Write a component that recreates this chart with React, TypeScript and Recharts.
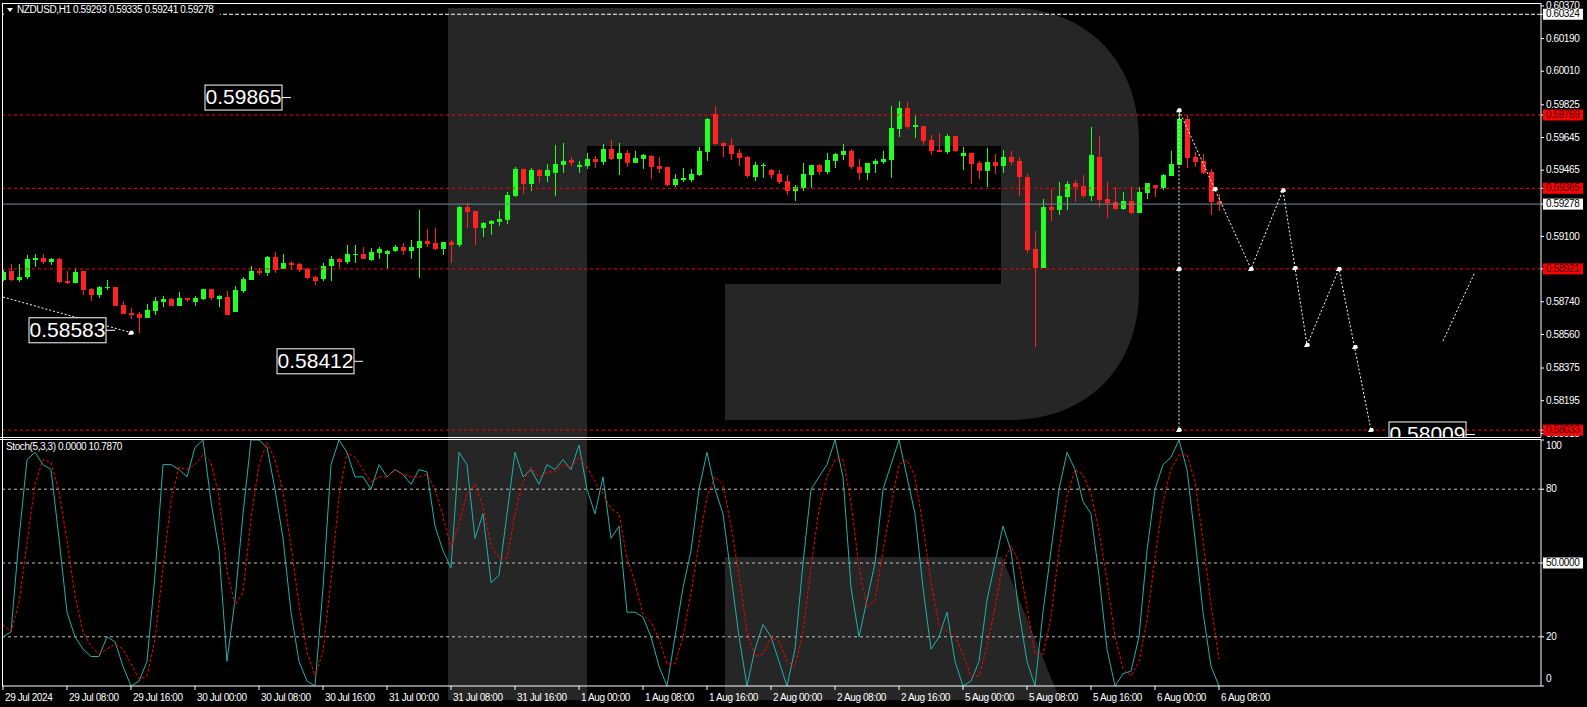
import React from 'react'
import { ComposedChart, Bar, Line, XAxis, YAxis, ReferenceLine, ReferenceDot } from 'recharts'

// NZDUSD H1, bar 0 = 29 Jul 00:00
const opens = [
  0.5886, 0.5891, 0.5886, 0.58876, 0.5897, 0.58981, 0.58959, 0.58976, 0.58854, 0.58843,
  0.5891, 0.5881, 0.58777, 0.58816, 0.58821, 0.58722, 0.58678, 0.58673, 0.58651, 0.58689,
  0.58739, 0.58755, 0.58717, 0.58761, 0.58739, 0.58755, 0.5881, 0.58755, 0.58766, 0.58684,
  0.58799, 0.5886, 0.5891, 0.58899, 0.58987, 0.58921, 0.58954, 0.58948, 0.58921, 0.58876,
  0.58865, 0.58937, 0.58976, 0.58959, 0.58998, 0.59003, 0.5897, 0.59009, 0.59003, 0.5902,
  0.59042, 0.5902, 0.59036, 0.59075, 0.59064, 0.59031, 0.59069, 0.59053, 0.59262, 0.5924,
  0.59146, 0.59169, 0.5918, 0.59191, 0.59323, 0.59472, 0.59389, 0.59466, 0.59433, 0.5945,
  0.59494, 0.59521, 0.59483, 0.59488, 0.59527, 0.5951, 0.59582, 0.59527, 0.5956, 0.59505,
  0.59527, 0.59543, 0.59488, 0.59483, 0.59383, 0.59411, 0.59411, 0.59438, 0.59565, 0.59775,
  0.59615, 0.59604, 0.5956, 0.59538, 0.59427, 0.59488, 0.59466, 0.59444, 0.59405, 0.5935,
  0.59367, 0.59438, 0.59494, 0.59455, 0.59516, 0.59549, 0.59571, 0.59483, 0.5945, 0.59499,
  0.5951, 0.59521, 0.59692, 0.59808, 0.59703, 0.59708, 0.59631, 0.59576, 0.59565, 0.59653,
  0.59543, 0.5956, 0.59505, 0.59461, 0.5951, 0.59488, 0.59538, 0.59516, 0.59427, 0.59031,
  0.58926, 0.59262, 0.59246, 0.59317, 0.59394, 0.59378, 0.59323, 0.59538, 0.59306, 0.5929,
  0.59251, 0.59295, 0.59229, 0.59339, 0.59383, 0.59367, 0.59433, 0.59494, 0.59747, 0.59538,
  0.59516, 0.59455, 0.59293,
]
const highs = [
  0.58915, 0.58948, 0.58948, 0.58998, 0.59003, 0.59003, 0.58981, 0.58981, 0.5891, 0.58926,
  0.5891, 0.58816, 0.58827, 0.5886, 0.58821, 0.58744, 0.58706, 0.58684, 0.58728, 0.58766,
  0.58772, 0.58761, 0.58794, 0.58761, 0.58772, 0.5881, 0.5881, 0.58777, 0.58799, 0.58827,
  0.58876, 0.58937, 0.58926, 0.58992, 0.59014, 0.59003, 0.58965, 0.58954, 0.58926, 0.58882,
  0.58954, 0.58992, 0.58981, 0.59053, 0.59053, 0.59042, 0.59036, 0.59042, 0.59025, 0.59053,
  0.59064, 0.5908, 0.59246, 0.59141, 0.59146, 0.59069, 0.5908, 0.59268, 0.59284, 0.5924,
  0.5918, 0.59191, 0.5924, 0.59345, 0.59483, 0.59472, 0.59477, 0.59472, 0.59499, 0.59604,
  0.59615, 0.59538, 0.59516, 0.5956, 0.59543, 0.59609, 0.59631, 0.59615, 0.59576, 0.59571,
  0.59554, 0.59549, 0.59538, 0.59483, 0.59444, 0.59477, 0.59472, 0.59593, 0.59753, 0.59819,
  0.5962, 0.59642, 0.59582, 0.59543, 0.5951, 0.59505, 0.59472, 0.59466, 0.59438, 0.59383,
  0.59505, 0.59494, 0.59499, 0.5956, 0.5956, 0.59609, 0.59582, 0.59527, 0.59505, 0.59527,
  0.59571, 0.59819, 0.59846, 0.59841, 0.59764, 0.59708, 0.59659, 0.5967, 0.59664, 0.59653,
  0.59593, 0.5956, 0.59516, 0.59587, 0.59554, 0.59576, 0.59571, 0.59538, 0.59444, 0.5913,
  0.59306, 0.59361, 0.594, 0.59405, 0.59411, 0.59438, 0.59703, 0.59653, 0.594, 0.59372,
  0.59345, 0.59372, 0.59372, 0.59394, 0.59383, 0.59444, 0.59571, 0.59791, 0.59769, 0.59565,
  0.59554, 0.59472, 0.59335,
]
const lows = [
  0.58854, 0.58854, 0.58849, 0.58865, 0.58932, 0.58948, 0.58943, 0.58843, 0.58838, 0.58843,
  0.58777, 0.58744, 0.58761, 0.58805, 0.58717, 0.58673, 0.58645, 0.58568, 0.58651, 0.58667,
  0.58711, 0.58717, 0.58717, 0.58739, 0.58717, 0.5875, 0.5875, 0.58711, 0.58667, 0.58684,
  0.58788, 0.5886, 0.58887, 0.58882, 0.58899, 0.58921, 0.58915, 0.58904, 0.58865, 0.58832,
  0.58854, 0.58854, 0.58926, 0.58948, 0.58954, 0.58976, 0.58965, 0.58976, 0.58921, 0.59014,
  0.58998, 0.58976, 0.58871, 0.59042, 0.59025, 0.58998, 0.58954, 0.59042, 0.59146, 0.59053,
  0.59097, 0.59108, 0.59157, 0.59169, 0.59317, 0.59334, 0.5935, 0.59394, 0.594, 0.59323,
  0.5945, 0.59488, 0.5945, 0.59472, 0.59477, 0.59494, 0.59521, 0.59438, 0.59483, 0.59505,
  0.59472, 0.59416, 0.5945, 0.59378, 0.59372, 0.594, 0.594, 0.59433, 0.59516, 0.59604,
  0.59538, 0.59521, 0.59488, 0.59422, 0.59405, 0.59422, 0.59416, 0.59389, 0.59328, 0.59295,
  0.5935, 0.59367, 0.59438, 0.59444, 0.59477, 0.59521, 0.59472, 0.59411, 0.59411, 0.5945,
  0.59499, 0.59422, 0.59648, 0.59692, 0.59642, 0.59604, 0.59549, 0.59565, 0.59554, 0.59565,
  0.59466, 0.59389, 0.59416, 0.59372, 0.59444, 0.5945, 0.59494, 0.59323, 0.59009, 0.58491,
  0.58926, 0.59185, 0.59218, 0.59246, 0.5929, 0.59312, 0.59295, 0.59262, 0.59202, 0.59246,
  0.59246, 0.59224, 0.59229, 0.59306, 0.59317, 0.59356, 0.59433, 0.59494, 0.59477, 0.59483,
  0.59444, 0.59218, 0.59241,
]
const closes = [
  0.58904, 0.5886, 0.58876, 0.58976, 0.58981, 0.58959, 0.58976, 0.58849, 0.58843, 0.58904,
  0.58805, 0.58777, 0.58821, 0.58821, 0.58717, 0.58673, 0.58667, 0.58651, 0.58695, 0.58744,
  0.58755, 0.58717, 0.58761, 0.5875, 0.58761, 0.5881, 0.58761, 0.58772, 0.58667, 0.58805,
  0.58865, 0.5891, 0.58899, 0.58987, 0.58915, 0.58954, 0.58943, 0.58915, 0.58871, 0.58854,
  0.58937, 0.58976, 0.58959, 0.59003, 0.59003, 0.58976, 0.59014, 0.59031, 0.5902, 0.59042,
  0.5902, 0.59042, 0.59075, 0.59058, 0.59031, 0.59069, 0.59053, 0.59262, 0.59235, 0.59146,
  0.59174, 0.59185, 0.59196, 0.59328, 0.59472, 0.59389, 0.59466, 0.59433, 0.59466, 0.59499,
  0.59516, 0.59505, 0.59494, 0.59527, 0.5951, 0.59582, 0.59527, 0.5956, 0.59505, 0.59532,
  0.59549, 0.59483, 0.59472, 0.59383, 0.59416, 0.59422, 0.59444, 0.59571, 0.59747, 0.59609,
  0.59598, 0.59554, 0.59532, 0.59433, 0.59494, 0.59494, 0.59438, 0.594, 0.5935, 0.59372,
  0.59444, 0.59494, 0.59455, 0.59521, 0.59554, 0.59571, 0.59483, 0.5945, 0.59505, 0.59516,
  0.59527, 0.59697, 0.59808, 0.59703, 0.59714, 0.59626, 0.59571, 0.59565, 0.59653, 0.59571,
  0.5956, 0.59499, 0.59461, 0.5951, 0.59488, 0.59538, 0.5951, 0.59427, 0.59025, 0.58926,
  0.59262, 0.59246, 0.59323, 0.59389, 0.59372, 0.59323, 0.59549, 0.59301, 0.59284, 0.59251,
  0.59295, 0.59229, 0.59345, 0.59394, 0.59367, 0.59438, 0.59499, 0.59747, 0.59532, 0.5951,
  0.5945, 0.5929, 0.59278,
]

// Stoch(5,3,3)
const stochK = [
  20, 22, 60, 92, 95, 90, 88, 60, 30, 20, 15, 12, 12, 20, 18, 8, 0, 2, 10, 45,
  90, 90, 88, 85, 97, 100, 75, 55, 10, 35, 70, 100, 100, 97, 80, 60, 30, 10, 2, 0,
  40, 90, 100, 95, 85, 85, 80, 90, 85, 88, 86, 82, 88, 87, 65, 55, 48, 95, 90, 60,
  70, 42, 45, 70, 95, 85, 88, 82, 90, 88, 92, 88, 98, 80, 70, 85, 60, 65, 30, 30,
  28, 20, 8, 0, 20, 40, 55, 80, 95, 80, 70, 45, 20, 0, 15, 25, 20, 10, 0, 15,
  50, 80, 85, 90, 100, 85, 40, 20, 35, 50, 80, 90, 100, 85, 70, 40, 15, 20, 30, 10,
  0, 2, 10, 35, 50, 65, 55, 30, 10, 0, 30, 55, 80, 95, 88, 75, 70, 45, 15, 0,
  5, 6, 20, 55, 80, 90, 93, 100, 88, 60, 30, 8, 0,
]
const stochD = [
  25, 22, 34, 58, 82, 92, 91, 79, 59, 37, 22, 16, 13, 15, 17, 15, 9, 3, 4, 19,
  48, 75, 89, 88, 90, 94, 91, 77, 47, 33, 38, 68, 90, 99, 92, 79, 57, 33, 14, 4,
  14, 43, 77, 95, 93, 88, 83, 85, 85, 88, 86, 85, 85, 86, 80, 69, 56, 66, 78, 82,
  73, 57, 52, 52, 70, 83, 89, 85, 87, 87, 90, 89, 93, 89, 83, 78, 72, 70, 52, 42,
  29, 26, 19, 9, 9, 20, 38, 58, 77, 85, 82, 65, 45, 22, 12, 13, 20, 18, 10, 8,
  22, 48, 72, 85, 92, 92, 75, 48, 32, 35, 55, 73, 90, 92, 85, 65, 42, 25, 22, 20,
  13, 4, 4, 16, 32, 50, 57, 50, 32, 13, 13, 28, 55, 77, 88, 86, 78, 63, 43, 20,
  7, 4, 10, 27, 52, 75, 88, 94, 94, 83, 59, 33, 10.787,
]

const xTickBars = [0, 8, 16, 24, 32, 40, 48, 56, 64, 72, 80, 88, 96, 104, 112, 120, 128, 136, 144, 152]
const xTickLabels = [
  '29 Jul 2024', '29 Jul 08:00', '29 Jul 16:00', '30 Jul 00:00', '30 Jul 08:00', '30 Jul 16:00',
  '31 Jul 00:00', '31 Jul 08:00', '31 Jul 16:00', '1 Aug 00:00', '1 Aug 08:00', '1 Aug 16:00',
  '2 Aug 00:00', '2 Aug 08:00', '2 Aug 16:00', '5 Aug 00:00', '5 Aug 08:00', '5 Aug 16:00',
  '6 Aug 00:00', '6 Aug 08:00',
]

const priceTicks = [0.6037, 0.6019, 0.6001, 0.59825, 0.59645, 0.59465, 0.591, 0.5874, 0.5856, 0.58375, 0.58195, 0.58015]
const redLevels = [0.59769, 0.59365, 0.58921, 0.58033]
const topLevel = 0.60324
const bidPrice = 0.59278
const stochTicks = [100, 80, 50, 20, 0]
const stochLevels = [80, 50, 20]

// forecast drawing
const waveBars = [147, 156, 160, 163, 167, 171]
const wavePrices = [0.59795, 0.58921, 0.59355, 0.58502, 0.58921, 0.58033]
const vertBars = [147, 147]
const vertPrices = [0.59795, 0.58033]
const leftBars = [0, 16]
const leftPrices = [0.58766, 0.5857]
const tailBars = [180, 184]
const tailPrices = [0.58524, 0.58904]
const markerBars = [147, 151.5, 156, 160, 161.5, 163, 167, 169, 171, 147, 147, 16]
const markerPrices = [0.59795, 0.59361, 0.58921, 0.59355, 0.58926, 0.58502, 0.58921, 0.58491, 0.58033, 0.58921, 0.58033, 0.5857]

const tagBars = [36, 14, 45, 184]
const tagPrices = [0.59865, 0.58583, 0.58412, 0.58009]

const X_DOMAIN: [number, number] = [-0.125, 192.25]
const PRICE_DOMAIN: [number, number] = [0.57995, 0.60386]
const GREEN = '#22ff22'
const RED = '#ff2222'
const FONT = 'Liberation Sans, Arial, sans-serif'
const small = { fontSize: 10, fontFamily: FONT, letterSpacing: -0.4 }

const candles = opens.map((o, i) => ({
  i, o, h: highs[i], l: lows[i], c: closes[i], range: [lows[i], highs[i]],
}))
const toPts = (bars: number[], prices: number[]) => bars.map((i, k) => ({ i, p: prices[k] }))
const stochData = stochK.map((k, i) => ({ i, k, d: stochD[i] }))

function Candle(props: any) {
  const { x, y, width, height, payload } = props
  const { o, h, l, c } = payload
  const top = Math.min(y, y + height)
  const span = Math.abs(height)
  const ppu = span / (h - l)
  const cx = Math.round(x + width / 2) + 0.5
  const color = c >= o ? GREEN : RED
  const bTop = top + (h - Math.max(o, c)) * ppu
  const bBot = top + (h - Math.min(o, c)) * ppu
  return (
    <g>
      <line x1={cx} x2={cx} y1={top} y2={top + span} stroke={color} />
      <rect x={cx - 2.5} y={bTop} width={5} height={Math.max(1, bBot - bTop)} fill={color} />
    </g>
  )
}

function Marker(props: any) {
  const { cx, cy } = props
  return (
    <path
      d={`M${cx - 3} ${cy + 2} L${cx - 1} ${cy - 2} L${cx + 2} ${cy - 2} L${cx + 3} ${cy + 1} L${cx + 1} ${cy + 2} Z`}
      fill="#fff"
    />
  )
}

function PriceTag(props: any) {
  const { cx, cy, text } = props
  const w = 77
  const h = 25
  const bx = cx - 9 - w
  return (
    <svg x={0} y={0} width={1587} height={437} overflow="hidden">
      <rect x={bx} y={cy - h / 2} width={w} height={h} fill="#000" stroke="#fff" />
      <text x={bx + w / 2} y={cy + 1} textAnchor="middle" dominantBaseline="middle" fill="#fff" fontSize={21} fontFamily={FONT}>
        {text}
      </text>
      <line x1={bx + w} x2={cx} y1={cy} y2={cy} stroke="#fff" />
    </svg>
  )
}

function PriceTick(props: any) {
  const { x, y, payload } = props
  const v = payload.value
  const red = redLevels.includes(v)
  const box = red || v === topLevel || v === bidPrice
  return (
    <g>
      {box && <rect x={x - 3} y={y - 5.5} width={40} height={11} fill={red ? '#ff0000' : '#ffffff'} />}
      <text x={x} y={y + 0.5} dominantBaseline="middle" fill={box ? (red ? '#3a0000' : '#000') : '#fff'} {...small}>
        {v.toFixed(5)}
      </text>
    </g>
  )
}

function StochTick(props: any) {
  const { x, y, payload } = props
  const v = payload.value
  const dy = v === 100 ? 6 : v === 0 ? -7 : 0
  const label = v === 50 ? '50.0000' : String(v)
  return (
    <g>
      {v === 50 && <rect x={x - 3} y={y - 5.5} width={40} height={11} fill="#fff" />}
      <text x={x} y={y + dy + 0.5} dominantBaseline="middle" fill={v === 50 ? '#000' : '#fff'} {...small}>
        {label}
      </text>
    </g>
  )
}

function TimeTick(props: any) {
  const { x, y, payload } = props
  const label = xTickLabels[xTickBars.indexOf(payload.value)]
  return (
    <text x={x + 2} y={y + 6} dominantBaseline="middle" fill="#fff" {...small}>
      {label}
    </text>
  )
}

function PriceChart() {
  const dashed = { stroke: '#fff', strokeDasharray: '2 2', strokeWidth: 1 }
  return (
    <ComposedChart width={1587} height={439} data={candles} margin={{ top: 3, right: 0, left: 2, bottom: 2 }}>
      <XAxis dataKey="i" type="number" domain={X_DOMAIN} allowDataOverflow hide />
      <YAxis
        orientation="right"
        width={46}
        domain={PRICE_DOMAIN}
        allowDataOverflow
        ticks={[...priceTicks, topLevel, bidPrice, ...redLevels]}
        interval={0}
        tick={<PriceTick />}
        tickSize={3}
        tickLine={{ stroke: '#fff' }}
        axisLine={{ stroke: '#fff' }}
      />
      <ReferenceLine y={topLevel} stroke="#fff" strokeDasharray="4 2" />
      {redLevels.map((v) => (
        <ReferenceLine key={v} y={v} stroke="#ff0000" strokeDasharray="3 3" />
      ))}
      <ReferenceLine y={bidPrice} stroke="#778899" />
      <Bar dataKey="range" barSize={5} shape={<Candle />} isAnimationActive={false} />
      <Line data={toPts(leftBars, leftPrices)} dataKey="p" type="linear" dot={false} {...dashed} isAnimationActive={false} />
      <Line data={toPts(vertBars, vertPrices)} dataKey="p" type="linear" dot={false} {...dashed} isAnimationActive={false} />
      <Line data={toPts(waveBars, wavePrices)} dataKey="p" type="linear" dot={false} {...dashed} isAnimationActive={false} />
      <Line data={toPts(tailBars, tailPrices)} dataKey="p" type="linear" dot={false} {...dashed} isAnimationActive={false} />
      {markerBars.map((b, k) => (
        <ReferenceDot key={'m' + k} x={b} y={markerPrices[k]} shape={<Marker />} />
      ))}
      {tagBars.map((b, k) => (
        <ReferenceDot key={'t' + k} x={b} y={tagPrices[k]} shape={<PriceTag text={tagPrices[k].toFixed(5)} />} />
      ))}
    </ComposedChart>
  )
}

function StochChart() {
  return (
    <ComposedChart width={1587} height={268} data={stochData} margin={{ top: 1, right: 0, left: 2, bottom: 0 }}>
      <XAxis
        dataKey="i"
        type="number"
        domain={X_DOMAIN}
        allowDataOverflow
        ticks={xTickBars}
        interval={0}
        height={21}
        tick={<TimeTick />}
        tickSize={4}
        tickLine={{ stroke: '#fff' }}
        axisLine={{ stroke: '#fff' }}
      />
      <YAxis
        orientation="right"
        width={46}
        domain={[0, 100]}
        ticks={stochTicks}
        interval={0}
        tick={<StochTick />}
        tickSize={3}
        tickLine={{ stroke: '#fff' }}
        axisLine={{ stroke: '#fff' }}
      />
      {stochLevels.map((v) => (
        <ReferenceLine key={v} y={v} stroke="#c0c0c0" strokeDasharray="3 3" />
      ))}
      <Line dataKey="k" type="linear" stroke="#20b2aa" strokeWidth={1} dot={false} isAnimationActive={false} />
      <Line dataKey="d" type="linear" stroke="#ff0000" strokeDasharray="3 2" strokeWidth={1} dot={false} isAnimationActive={false} />
    </ComposedChart>
  )
}

export default function App() {
  return (
    <div style={{ position: 'fixed', left: 0, top: 0, width: 1587, height: 707, background: '#000', overflow: 'hidden' }}>
      <svg width={1587} height={707} style={{ position: 'absolute', left: 0, top: 0 }}>
        <g fill="#262626">
          <path d="M448 8 H587 V700 H448 Z" />
          <path d="M587 8 H1010 C1085 8 1139 60 1139 140 V290 C1139 370 1085 420 1010 420 H725 V284 H1001 V146 H587 Z" />
          <path d="M725 557 H1002 L1060 700 H725 Z" />
        </g>
      </svg>
      <div style={{ position: 'absolute', left: 0, top: 0 }}>
        <PriceChart />
      </div>
      <div style={{ position: 'absolute', left: 0, top: 439 }}>
        <StochChart />
      </div>
      <svg width={1587} height={707} style={{ position: 'absolute', left: 0, top: 0, pointerEvents: 'none' }}>
        <g stroke="#fff" strokeWidth={1} shapeRendering="crispEdges">
          <line x1={2} x2={1541} y1={3} y2={3} />
          <line x1={2} x2={2} y1={3} y2={686} />
          <line x1={0} x2={1541} y1={437} y2={437} />
          <line x1={0} x2={1541} y1={439.5} y2={439.5} />
        </g>
        <rect x={4} y={5} width={216} height={10} fill="#000" />
        <path d="M7 8 L13 8 L10 12 Z" fill="#fff" />
        <text x={17} y={10.5} dominantBaseline="middle" fill="#fff" {...small}>
          NZDUSD,H1  0.59293 0.59335 0.59241 0.59278
        </text>
        <text x={6} y={447} dominantBaseline="middle" fill="#fff" {...small}>
          Stoch(5,3,3) 0.0000 10.7870
        </text>
      </svg>
    </div>
  )
}
